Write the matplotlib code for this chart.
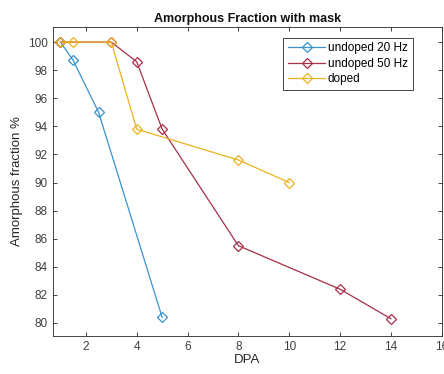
import matplotlib.pyplot as plt

# data
dpa_20 = [1, 1.5, 2.5, 5]
frac_20 = [100, 98.7, 95.0, 80.4]

dpa_50 = [1, 3, 4, 5, 8, 12, 14]
frac_50 = [100, 100, 98.6, 93.8, 85.5, 82.4, 80.3]

dpa_doped = [1, 1.5, 3, 4, 8, 10]
frac_doped = [100, 100, 100, 93.8, 91.6, 90.0]

labels = ['undoped 20 Hz', 'undoped 50 Hz', 'doped']
colors = ['#3A93CF', '#A83048', '#EDB120']
x_ticks = [2, 4, 6, 8, 10, 12, 14, 16]
y_ticks = [80, 82, 84, 86, 88, 90, 92, 94, 96, 98, 100]

plt.rcParams['font.family'] = ['Liberation Sans', 'DejaVu Sans']

fig = plt.figure(figsize=(4.44, 3.74), dpi=100)
ax = fig.add_axes([0.119, 0.1016, 0.876, 0.826])

series = [(dpa_20, frac_20), (dpa_50, frac_50), (dpa_doped, frac_doped)]
for (x, y), lab, c in zip(series, labels, colors):
    ax.plot(x, y, color=c, lw=0.9, marker='D', markersize=5.5,
            markerfacecolor='none', markeredgewidth=0.9, label=lab)

ax.set_xlim(0.7, 16)
ax.set_ylim(79.07, 101.07)
ax.set_xticks(x_ticks)
ax.set_yticks(y_ticks)
ax.tick_params(direction='in', top=True, right=True, labelsize=8.5,
               colors='#262626', length=3, width=0.6, labelcolor='#404040')
for s in ax.spines.values():
    s.set_color('#262626')
    s.set_linewidth(0.6)

ax.set_title('Amorphous Fraction with mask', fontsize=9, fontweight='bold',
             color='#111111', pad=4)
ax.set_xlabel('DPA', fontsize=9.5, color='#262626', labelpad=1)
ax.set_ylabel('Amorphous fraction %', fontsize=9.5, color='#262626', labelpad=4)

leg = ax.legend(loc='upper right', bbox_to_anchor=(0.94, 0.985), fontsize=8.5,
                handlelength=3.2, handletextpad=0.2, borderpad=0.4,
                labelspacing=0.3, fancybox=False, framealpha=1)
leg.get_frame().set_edgecolor('#262626')
leg.get_frame().set_linewidth(0.6)

fig.savefig('out.png', dpi=100)
